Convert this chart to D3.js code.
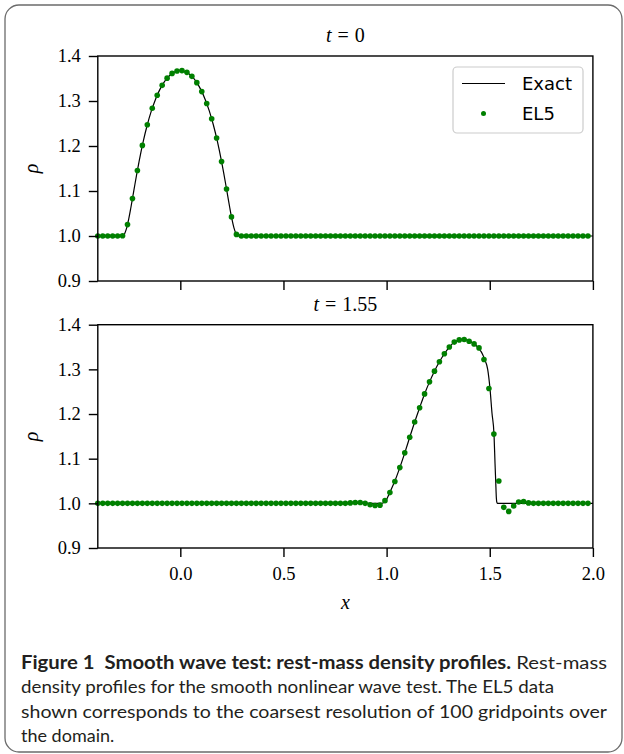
<!DOCTYPE html>
<html><head><meta charset="utf-8">
<script src="https://cdn.jsdelivr.net/npm/d3@7"></script>
<style>body{margin:0;background:#fff}svg{display:block}</style>
</head><body>
<svg id="c" width="624" height="754"></svg>
<script>
// ---------- data ----------
const gridX = [
 -0.4,-0.376,-0.352,-0.328,-0.304,-0.28,-0.256,-0.232,-0.208,-0.184,
 -0.16,-0.136,-0.112,-0.088,-0.064,-0.04,-0.016,0.008,0.032,0.056,
 0.08,0.104,0.128,0.152,0.176,0.2,0.224,0.248,0.272,0.296,
 0.32,0.344,0.368,0.392,0.416,0.44,0.464,0.488,0.512,0.536,
 0.56,0.584,0.608,0.632,0.656,0.68,0.704,0.728,0.752,0.776,
 0.8,0.824,0.848,0.872,0.896,0.92,0.944,0.968,0.992,1.016,
 1.04,1.064,1.088,1.112,1.136,1.16,1.184,1.208,1.232,1.256,
 1.28,1.304,1.328,1.352,1.376,1.4,1.424,1.448,1.472,1.496,
 1.52,1.544,1.568,1.592,1.616,1.64,1.664,1.688,1.712,1.736,
 1.76,1.784,1.808,1.832,1.856,1.88,1.904,1.928,1.952,1.976];

const el5T0 = [
 1.0,1.0,1.0,1.0,1.0,1.0004,1.0253,1.0831,1.1457,1.2013,
 1.2472,1.2840,1.3129,1.3348,1.3508,1.3613,1.3668,1.3676,1.3637,1.3548,
 1.3408,1.3209,1.2945,1.2605,1.2177,1.1653,1.1043,1.0425,1.0036,1.0,
 1.0,1.0,1.0,1.0,1.0,1.0,1.0,1.0,1.0,1.0,
 1.0,1.0,1.0,1.0,1.0,1.0,1.0,1.0,1.0,1.0,
 1.0,1.0,1.0,1.0,1.0,1.0,1.0,1.0,1.0,1.0,
 1.0,1.0,1.0,1.0,1.0,1.0,1.0,1.0,1.0,1.0,
 1.0,1.0,1.0,1.0,1.0,1.0,1.0,1.0,1.0,1.0,
 1.0,1.0,1.0,1.0,1.0,1.0,1.0,1.0,1.0,1.0,
 1.0,1.0,1.0,1.0,1.0,1.0,1.0,1.0,1.0,1.0];

const el5T155 = [
 1.0,1.0,1.0,1.0,1.0,1.0,1.0,1.0,1.0,1.0,
 1.0,1.0,1.0,1.0,1.0,1.0,1.0,1.0,1.0,1.0,
 1.0,1.0,1.0,1.0,1.0,1.0,1.0,1.0,1.0,1.0,
 1.0,1.0,1.0,1.0,1.0,1.0,1.0,1.0,1.0,1.0,
 1.0,1.0,1.0,1.0,1.0,1.0,1.0,1.0,1.0,1.0,
 1.0,1.001,1.002,1.002,1.0,0.997,0.995,0.996,1.006,1.024,
 1.049,1.080,1.113,1.148,1.182,1.214,1.245,1.272,1.296,1.317,
 1.335,1.350,1.361,1.366,1.367,1.363,1.357,1.348,1.322,1.257,
 1.155,1.050,0.991,0.982,0.994,1.003,1.004,1.001,1.0,1.0,
 1.0,1.0,1.0,1.0,1.0,1.0,1.0,1.0,1.0,1.0];

const exactT0X = [-0.4,-0.3,-0.28,-0.27,-0.26,-0.25,-0.24,-0.23,-0.22,-0.21,-0.2,
 -0.18,-0.16,-0.14,-0.12,-0.1,-0.08,-0.06,-0.04,-0.02,0,
 0.02,0.04,0.06,0.08,0.1,0.12,0.14,0.16,0.18,0.2,
 0.21,0.22,0.23,0.24,0.25,0.26,0.27,0.28,0.3,2.0];
const exactT0Rho = [1,1,1.0004,1.0052,1.018,1.0379,1.0622,1.0884,1.115,1.1408,1.1653,
 1.2096,1.2472,1.2785,1.3041,1.3247,1.3408,1.3529,1.3613,1.3662,1.3679,
 1.3662,1.3613,1.3529,1.3408,1.3247,1.3041,1.2785,1.2472,1.2096,1.1653,
 1.1408,1.115,1.0884,1.0622,1.0379,1.018,1.0052,1.0004,1,1];

const exactT155X = [-0.4,0.96,0.975,0.99,1.0,1.016,1.04,
 1.064,1.088,1.112,1.136,1.16,1.184,1.208,1.232,1.256,1.28,1.304,1.328,1.352,
 1.37,1.39,1.41,1.43,1.45,1.465,1.4755,1.49,
 1.5012,1.5109,1.5206,1.5255,1.5288,1.532,1.5345,1.537,1.545,2.0];
const exactT155Rho = [1,1,1.0,1.003,1.009,1.025,1.050,
 1.080,1.113,1.148,1.182,1.214,1.245,1.272,1.296,1.317,1.335,1.350,1.361,1.366,
 1.3679,1.3655,1.361,1.355,1.345,1.334,1.322,1.300,
 1.2568,1.2018,1.1548,1.0899,1.0503,1.012,1.002,1.0,1.0,1.0];

const xTicks = [0.0, 0.5, 1.0, 1.5, 2.0];
const yTicks = [0.9, 1.0, 1.1, 1.2, 1.3, 1.4];
const panelTitles = [["t", "0"], ["t", "1.55"]];
const legendLabels = ["Exact", "EL5"];
const captionBold = "Figure 1  Smooth wave test: rest-mass density profiles.";
const captionLines = [
 " Rest-mass",
 "density profiles for the smooth nonlinear wave test. The EL5 data",
 "shown corresponds to the coarsest resolution of 100 gridpoints over",
 "the domain."];

// ---------- drawing ----------
const svg = d3.select("#c");
const W = 624, H = 754;
svg.append("rect").attr("width", W).attr("height", H).attr("fill", "#fff");
svg.append("rect").attr("x", 5).attr("y", 5).attr("width", 617).attr("height", 747)
  .attr("rx", 14).attr("fill", "none").attr("stroke", "#6b6b6b").attr("stroke-width", 1.3);

const left = 97.8, right = 592.9;
const x = d3.scaleLinear().domain([-0.4, 2.0]).range([left, right]);
const serif = "'Liberation Serif', 'Times New Roman', serif";
const green = "#008000";

function panel(top, bottom, titleIdx, exX, exY, dots, showXLabels) {
  const y = d3.scaleLinear().domain([0.9, 1.4]).range([bottom, top]);
  const g = svg.append("g");

  // exact line
  const line = d3.line().x(d => x(d[0])).y(d => y(d[1])).curve(d3.curveMonotoneX);
  g.append("path").datum(exX.map((v, i) => [v, exY[i]]))
    .attr("d", line).attr("fill", "none").attr("stroke", "#000").attr("stroke-width", 1.2);

  // EL5 dots
  g.append("g").selectAll("circle").data(gridX.map((v, i) => [v, dots[i]]))
    .join("circle").attr("cx", d => x(d[0])).attr("cy", d => y(d[1]))
    .attr("r", 2.8).attr("fill", green);

  // frame
  g.append("rect").attr("x", left).attr("y", top).attr("width", right - left)
    .attr("height", bottom - top).attr("fill", "none").attr("stroke", "#000").attr("stroke-width", 1.4);

  // axes
  const ya = g.append("g").attr("transform", `translate(${left},0)`)
    .call(d3.axisLeft(y).tickValues(yTicks).tickFormat(d3.format(".1f")).tickSize(9).tickPadding(8));
  const xa = g.append("g").attr("transform", `translate(0,${bottom})`)
    .call(d3.axisBottom(x).tickValues(xTicks).tickFormat(showXLabels ? d3.format(".1f") : () => "")
      .tickSize(9).tickPadding(10));
  [ya, xa].forEach(a => {
    a.select(".domain").remove();
    a.selectAll(".tick line").attr("stroke", "#000").attr("stroke-width", 1.4);
    a.selectAll(".tick text").attr("fill", "#000").style("font-family", serif).style("font-size", "18.5px");
  });

  // title
  const tt = panelTitles[titleIdx];
  const t = g.append("text").attr("x", (left + right) / 2).attr("y", top - 14)
    .attr("text-anchor", "middle").style("font-family", serif).style("font-size", "20px").attr("fill", "#000");
  t.append("tspan").style("font-style", "italic").text(tt[0]);
  t.append("tspan").attr("dx", 6).text("=");
  t.append("tspan").attr("dx", 6).text(tt[1]);

  // y label
  g.append("text").attr("transform", `translate(38,${(top + bottom) / 2}) rotate(-90)`)
    .attr("text-anchor", "middle").style("font-family", serif).style("font-style", "italic")
    .style("font-size", "20px").attr("fill", "#000").text("ρ");
  return y;
}

panel(56, 281, 0, exactT0X, exactT0Rho, el5T0, false);
panel(324.7, 548, 1, exactT155X, exactT155Rho, el5T155, true);

// x label
svg.append("text").attr("x", (left + right) / 2).attr("y", 609).attr("text-anchor", "middle")
  .style("font-family", serif).style("font-style", "italic").style("font-size", "20px").text("x");

// legend
const lg = svg.append("g");
lg.append("rect").attr("x", 453).attr("y", 67).attr("width", 130).attr("height", 66).attr("rx", 4)
  .attr("fill", "#fff").attr("fill-opacity", 0.8).attr("stroke", "#cccccc").attr("stroke-width", 1.2);
lg.append("line").attr("x1", 462).attr("x2", 505).attr("y1", 83.5).attr("y2", 83.5)
  .attr("stroke", "#000").attr("stroke-width", 1.2);
lg.append("circle").attr("cx", 483.5).attr("cy", 113.5).attr("r", 2.5).attr("fill", green);
legendLabels.forEach((s, i) => {
  lg.append("text").attr("x", 522).attr("y", 90 + i * 30).style("font-family", "'DejaVu Sans', sans-serif")
    .style("font-size", "18px").attr("fill", "#000").text(s);
});

// caption
const capFont = "Lato, 'Open Sans', sans-serif";
const capY = [669, 693, 718, 742];
const capW = [586, 533, 586, null];
const c0 = svg.append("text").attr("x", 21).attr("y", capY[0]).style("font-family", capFont)
  .style("font-size", "18px").attr("fill", "#231f20").style("white-space", "pre")
  .attr("textLength", capW[0]).attr("lengthAdjust", "spacingAndGlyphs");
c0.append("tspan").style("font-weight", "bold").text(captionBold);
c0.append("tspan").text(captionLines[0]);
for (let i = 1; i < 4; i++) {
  const t = svg.append("text").attr("x", 21).attr("y", capY[i]).style("font-family", capFont)
    .style("font-size", "18px").attr("fill", "#231f20").text(captionLines[i]);
  if (capW[i]) t.attr("textLength", capW[i]).attr("lengthAdjust", "spacingAndGlyphs");
}
</script>
</body></html>
